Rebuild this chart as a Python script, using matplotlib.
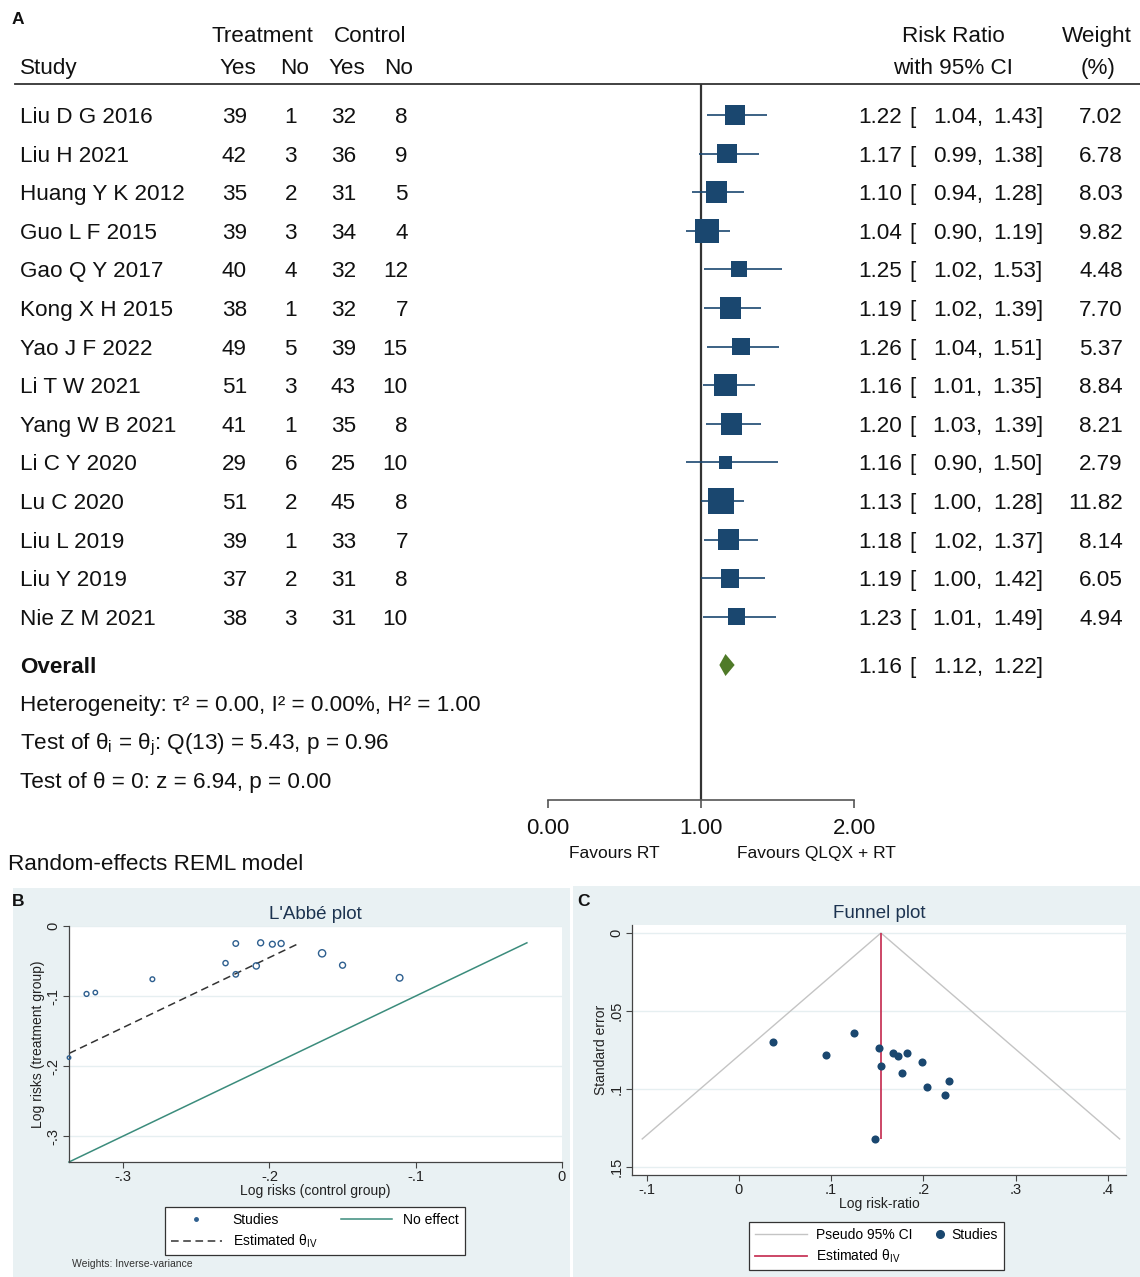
import matplotlib
matplotlib.use("Agg")
import matplotlib.pyplot as plt
import matplotlib.transforms as mtransforms
from matplotlib.lines import Line2D
from matplotlib.patches import Rectangle
from matplotlib.legend_handler import HandlerLine2D
import numpy as np

plt.rcParams['font.family'] = ['Liberation Sans', 'DejaVu Sans']
plt.rcParams['mathtext.fontset'] = 'custom'
plt.rcParams['mathtext.rm'] = 'Liberation Sans'
plt.rcParams['mathtext.it'] = 'Liberation Sans:italic'
plt.rcParams['mathtext.bf'] = 'Liberation Sans:bold'

# ---------------- data ----------------
studies = ["Liu D G 2016", "Liu H 2021", "Huang Y K 2012", "Guo L F 2015", "Gao Q Y 2017",
           "Kong X H 2015", "Yao J F 2022", "Li T W 2021", "Yang W B 2021", "Li C Y 2020",
           "Lu C 2020", "Liu L 2019", "Liu Y 2019", "Nie Z M 2021"]
t_yes = [39, 42, 35, 39, 40, 38, 49, 51, 41, 29, 51, 39, 37, 38]
t_no = [1, 3, 2, 3, 4, 1, 5, 3, 1, 6, 2, 1, 2, 3]
c_yes = [32, 36, 31, 34, 32, 32, 39, 43, 35, 25, 45, 33, 31, 31]
c_no = [8, 9, 5, 4, 12, 7, 15, 10, 8, 10, 8, 7, 8, 10]
rr = [1.22, 1.17, 1.10, 1.04, 1.25, 1.19, 1.26, 1.16, 1.20, 1.16, 1.13, 1.18, 1.19, 1.23]
rr_lo = [1.04, 0.99, 0.94, 0.90, 1.02, 1.02, 1.04, 1.01, 1.03, 0.90, 1.00, 1.02, 1.00, 1.01]
rr_hi = [1.43, 1.38, 1.28, 1.19, 1.53, 1.39, 1.51, 1.35, 1.39, 1.50, 1.28, 1.37, 1.42, 1.49]
weight = [7.02, 6.78, 8.03, 9.82, 4.48, 7.70, 5.37, 8.84, 8.21, 2.79, 11.82, 8.14, 6.05, 4.94]
overall = (1.16, 1.12, 1.22)
forest_ticks = [0, 1, 2]
forest_ticklabels = ["0.00", "1.00", "2.00"]

# L'Abbé plot (log risks)
labbe_ctrl = [-0.223, -0.223, -0.150, -0.111, -0.319, -0.198, -0.325, -0.209, -0.206, -0.337,
              -0.164, -0.192, -0.230, -0.280]
labbe_trt = [-0.025, -0.069, -0.056, -0.074, -0.095, -0.026, -0.097, -0.057, -0.024, -0.188,
             -0.039, -0.025, -0.053, -0.076]
noeffect_x = [-0.337, -0.024]
estimated_x = [-0.337, -0.179]
labbe_theta = 0.155

# Funnel plot
funnel_logrr = [0.198, 0.154, 0.094, 0.037, 0.223, 0.172, 0.228, 0.152, 0.182, 0.148,
                0.125, 0.167, 0.177, 0.204]
funnel_se = [0.083, 0.085, 0.078, 0.070, 0.104, 0.079, 0.095, 0.074, 0.077, 0.132,
             0.064, 0.077, 0.090, 0.099]
theta_iv = 0.154
se_max = 0.132

# ---------------- figure ----------------
W, H = 1140, 1277
fig = plt.figure(figsize=(W / 100, H / 100), dpi=100)
fig.patch.set_facecolor('white')

NAVY = '#1a476f'
GREEN = '#4f7a28'
RED = '#c8385a'
BG = '#e9f1f3'
TXT = '#111111'


def fx(px):
    return px / W


def fy(py):
    return 1 - py / H


def px_axes(l, t, r, b):
    return fig.add_axes([l / W, 1 - b / H, (r - l) / W, (b - t) / H])


def ftext(x, y, s, **kw):
    kw.setdefault('color', TXT)
    return fig.text(fx(x), fy(y), s, **kw)

# ---------------- Panel A: forest plot ----------------
ROW0, DROW = 115.0, 38.6
BASE = 8.0  # px from visual centre to baseline for the row font
axF = px_axes(548, 84, 854, 800)
axF.set_xlim(0, 2)
axF.set_ylim((800 - ROW0) / DROW, (84 - ROW0) / DROW)
axF.patch.set_visible(False)
for s in ['top', 'right', 'left']:
    axF.spines[s].set_visible(False)
axF.spines['bottom'].set_color('#555555')
axF.spines['bottom'].set_linewidth(1.2)
axF.set_yticks([])
axF.set_xticks(forest_ticks)
axF.set_xticklabels(forest_ticklabels)
axF.tick_params(axis='x', direction='out', length=6, width=1.2, color='#555555',
                labelsize=16, pad=7, labelcolor=TXT)
axF.axvline(1, color='#333333', lw=1.6, zorder=1)

rows = np.arange(len(studies))
axF.hlines(rows, rr_lo, rr_hi, color=NAVY, lw=1.2, zorder=2, clip_on=False)
sizes = (5.47 * np.sqrt(np.array(weight))) ** 2
axF.scatter(rr, rows, marker='s', s=sizes, color=NAVY, zorder=3, clip_on=False, linewidths=0)

orow = (665 - ROW0) / DROW
h = 11 / DROW
axF.fill([overall[1], overall[0], overall[2], overall[0]],
         [orow, orow - h, orow, orow + h], color=GREEN, zorder=3, clip_on=False, lw=0)

trans = mtransforms.blended_transform_factory(fig.transFigure, axF.transData)
FS = 16.2
boff = BASE / DROW


def rtext(x, row, s, **kw):
    kw.setdefault('color', TXT)
    kw.setdefault('fontsize', FS)
    kw.setdefault('va', 'baseline')
    return fig.text(fx(x), row + boff, s, transform=trans, **kw)


def btext(x, yc, s, **kw):
    # text whose visual centre lies at pixel row yc
    kw.setdefault('color', TXT)
    kw.setdefault('fontsize', FS)
    kw.setdefault('va', 'baseline')
    return fig.text(fx(x), fy(yc + BASE), s, **kw)


for i in range(len(studies)):
    rtext(20, i, studies[i], ha='left')
    rtext(247, i, str(t_yes[i]), ha='right')
    rtext(297, i, str(t_no[i]), ha='right')
    rtext(356, i, str(c_yes[i]), ha='right')
    rtext(408, i, str(c_no[i]), ha='right')
    rtext(902, i, f"{rr[i]:.2f}", ha='right')
    rtext(909, i, "[", ha='left')
    rtext(983, i, f"{rr_lo[i]:.2f},", ha='right')
    rtext(1043, i, f"{rr_hi[i]:.2f}]", ha='right')
    rtext(1123, i, f"{weight[i]:.2f}", ha='right')

rtext(20, orow, "Overall", ha='left', fontweight='bold')
rtext(902, orow, f"{overall[0]:.2f}", ha='right')
rtext(909, orow, "[", ha='left')
rtext(983, orow, f"{overall[1]:.2f},", ha='right')
rtext(1043, orow, f"{overall[2]:.2f}]", ha='right')

btext(20, 703, "Heterogeneity: \u03c4\u00b2 = 0.00, I\u00b2 = 0.00%, H\u00b2 = 1.00", ha='left')
btext(20, 741, r"Test of θ$_\mathregular{i}$ = θ$_\mathregular{j}$: Q(13) = 5.43, p = 0.96",
      ha='left')
btext(20, 780, "Test of θ = 0: z = 6.94, p = 0.00", ha='left')

# headers
btext(262, 34, "Treatment", ha='center')
btext(370, 34, "Control", ha='center')
btext(20, 66, "Study", ha='left')
btext(238, 66, "Yes", ha='center')
btext(295, 66, "No", ha='center')
btext(347, 66, "Yes", ha='center')
btext(399, 66, "No", ha='center')
btext(953, 34, "Risk Ratio", ha='center')
btext(953, 66, "with 95% CI", ha='center')
btext(1097, 34, "Weight", ha='center')
btext(1098, 66, "(%)", ha='center')
fig.add_artist(Line2D([fx(15), fx(1140)], [fy(84), fy(84)], color='#333333', lw=1.3))

ftext(614, 858, "Favours RT", fontsize=12.5, ha='center', va='baseline')
ftext(816, 858, "Favours QLQX + RT", fontsize=12.5, ha='center', va='baseline')
btext(8, 862, "Random-effects REML model", ha='left')
ftext(12, 20, "A", fontsize=12.5, fontweight='bold', ha='left', va='center')

# ---------------- backgrounds for B and C ----------------
fig.add_artist(Rectangle((fx(13), 0), fx(570) - fx(13), (1277 - 888) / H,
                         transform=fig.transFigure, facecolor=BG, edgecolor='none', zorder=-5))
fig.add_artist(Rectangle((fx(573), 0), fx(1140) - fx(573), (1277 - 886) / H,
                         transform=fig.transFigure, facecolor=BG, edgecolor='none', zorder=-5))
ftext(12, 902, "B", fontsize=12.5, fontweight='bold', ha='left', va='center')
ftext(577, 902, "C", fontsize=12.5, fontweight='bold', ha='left', va='center')

TFS = 10.5
LFS = 10.0


def style_stata(ax):
    ax.set_facecolor('white')
    for s in ['top', 'right']:
        ax.spines[s].set_visible(False)
    for s in ['left', 'bottom']:
        ax.spines[s].set_color('#444444')
        ax.spines[s].set_linewidth(0.9)
    ax.tick_params(direction='out', length=4, width=0.8, color='#444444',
                   labelsize=TFS, labelcolor='#222222', pad=2)
    ax.yaxis.grid(True, color='#e6eff1', lw=1.0)
    ax.set_axisbelow(True)
    for lab in ax.get_yticklabels():
        lab.set_rotation(90)
        lab.set_va('center')


class RightMarkerHandler(HandlerLine2D):
    """Legend handler that puts the marker near the right end of the handle box."""
    def create_artists(self, legend, orig_handle, xdescent, ydescent, width, height,
                       fontsize, trans):
        arts = super().create_artists(legend, orig_handle, xdescent, ydescent, width, height,
                                      fontsize, trans)
        for a in arts:
            if a.get_marker() not in (None, '', 'None', ' '):
                a.set_xdata([-xdescent + width * 0.95])
        return arts

# ---------------- Panel B: L'Abbé plot ----------------
axB = px_axes(69, 926, 562, 1162)
axB.set_xlim(-0.337, 0)
axB.set_ylim(-0.337, 0)
axB.set_xticks([-0.3, -0.2, -0.1, 0])
axB.set_xticklabels(['-.3', '-.2', '-.1', '0'])
axB.set_yticks([-0.3, -0.2, -0.1, 0])
axB.set_yticklabels(['-.3', '-.2', '-.1', '0'])
style_stata(axB)
axB.plot(noeffect_x, noeffect_x, color='#3b8c7c', lw=1.1, zorder=2, clip_on=False)
est_y = [x + labbe_theta for x in estimated_x]
axB.plot(estimated_x, est_y, color='#333333', lw=1.1, ls=(0, (5, 3)), zorder=2, clip_on=False)
msz = (2.1 * np.sqrt(np.array(weight)) * 0.72) ** 2
axB.scatter(labbe_ctrl, labbe_trt, s=msz, facecolors='none', edgecolors='#2e5f8f',
            linewidths=1.0, zorder=3, clip_on=False)
axB.set_title("L'Abbé plot", fontsize=13.5, color='#1c3350', pad=5)
axB.set_xlabel("Log risks (control group)", fontsize=LFS, color='#222222', labelpad=0)
axB.set_ylabel("Log risks (treatment group)", fontsize=LFS, color='#222222', labelpad=1)

hB = [Line2D([], [], ls='none', marker='o', ms=2.5, color='#2e5f8f'),
      Line2D([], [], color='#333333', lw=1.1, ls=(0, (5, 3))),
      Line2D([], [], color='#3b8c7c', lw=1.1)]
legB = fig.legend(hB, ["Studies", r"Estimated θ$_\mathregular{IV}$", "No effect"], ncol=2,
                  loc='upper left', bbox_to_anchor=(fx(165), fy(1207)),
                  bbox_transform=fig.transFigure, fontsize=LFS, frameon=True, fancybox=False,
                  edgecolor='#333333', framealpha=1, handlelength=3.67, columnspacing=1.73,
                  borderpad=0.4, labelspacing=0.43, handletextpad=0.8, borderaxespad=0)
legB.get_frame().set_linewidth(0.9)
ftext(72, 1264, "Weights: Inverse-variance", fontsize=7.5, ha='left', va='center', color='#333333')

# ---------------- Panel C: Funnel plot ----------------
axC = px_axes(632, 925, 1126, 1175)
axC.set_xlim(-0.1158, 0.4196)
axC.set_ylim(0.1551, -0.0051)
axC.set_xticks([-0.1, 0, 0.1, 0.2, 0.3, 0.4])
axC.set_xticklabels(['-.1', '0', '.1', '.2', '.3', '.4'])
axC.set_yticks([0, 0.05, 0.1, 0.15])
axC.set_yticklabels(['0', '.05', '.1', '.15'])
style_stata(axC)
axC.plot([theta_iv - 1.96 * se_max, theta_iv, theta_iv + 1.96 * se_max], [se_max, 0, se_max],
         color='#c4c4c4', lw=1.0, zorder=2)
axC.vlines(theta_iv, 0, se_max, color=RED, lw=1.3, zorder=2)
axC.scatter(funnel_logrr, funnel_se, s=34, color=NAVY, zorder=3, linewidths=0)
axC.set_title("Funnel plot", fontsize=13.5, color='#1c3350', pad=5)
axC.set_xlabel("Log risk-ratio", fontsize=LFS, color='#222222', labelpad=0)
axC.set_ylabel("Standard error", fontsize=LFS, color='#222222', labelpad=1)

studies_handle = Line2D([], [], ls='none', marker='o', ms=5.5, color=NAVY)
hC = [Line2D([], [], color='#c4c4c4', lw=1.0),
      Line2D([], [], color=RED, lw=1.3),
      studies_handle]
legC = fig.legend(hC, ["Pseudo 95% CI", r"Estimated θ$_\mathregular{IV}$", "Studies"], ncol=2,
                  loc='upper left', bbox_to_anchor=(fx(749), fy(1222)),
                  bbox_transform=fig.transFigure, fontsize=LFS, frameon=True, fancybox=False,
                  edgecolor='#333333', framealpha=1, handlelength=3.8, columnspacing=-1.66,
                  borderpad=0.4, labelspacing=0.43, handletextpad=0.65, borderaxespad=0,
                  handler_map={studies_handle: RightMarkerHandler()})
legC.get_frame().set_linewidth(0.9)

fig.savefig("out.png", dpi=100, facecolor='white')
